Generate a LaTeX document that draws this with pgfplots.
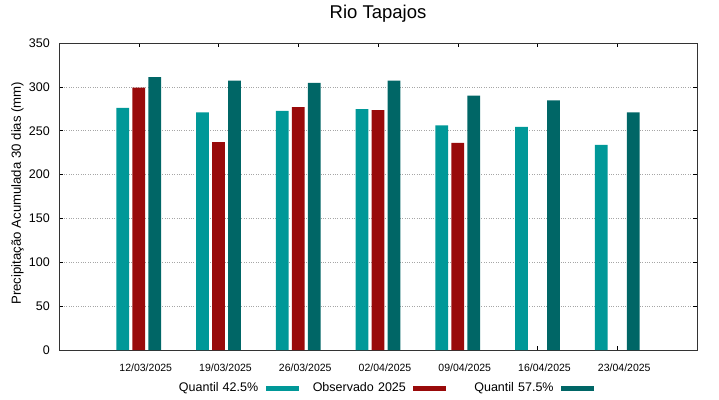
\documentclass[border=0pt]{standalone}
\usepackage{pgfplots}
\pgfplotsset{compat=1.18}
\usepackage{fontspec}
\setmainfont{Liberation Sans}
\usetikzlibrary{calc}
\definecolor{qlow}{RGB}{0,152,152}
\definecolor{obs}{RGB}{153,10,10}
\definecolor{qhigh}{RGB}{0,102,102}
\begin{document}
\begin{tikzpicture}
\begin{axis}[
  scale only axis,
  width=638pt, height=307pt,
  xmin=0, xmax=8, ymin=0, ymax=350,
  xtick={1,2,3,4,5,6,7},
  xticklabels={12/03/2025,19/03/2025,26/03/2025,02/04/2025,09/04/2025,16/04/2025,23/04/2025},
  ytick={0,50,100,150,200,250,300,350},
  /pgf/number format/assume math mode=true,
  xticklabel style={font=\fontsize{10.5}{12}\selectfont, anchor=base, yshift=-21pt, xshift=7pt},
  yticklabel style={font=\fontsize{12.5}{14}\selectfont, inner sep=0pt, xshift=-9pt},
  tick align=inside,
  major tick length=4pt,
  tick style={black, line width=0.5pt},
  axis line style={black!80, line width=0.7pt},
  ymajorgrids,
  grid style={gray!70, dotted, line width=0.6pt},
  legend columns=3,
  legend plot pos=right,
  legend style={draw=none, fill=none, font=\fontsize{12.5}{14}\selectfont,
    at={(rel axis cs:0.5002,0)}, anchor=center, yshift=-38pt,
    nodes={text width=94pt, align=right},
    /tikz/every odd column/.style={column sep=5.5pt},
    /tikz/every even column/.style={column sep=11.2pt}},
  legend image code/.code={\fill[#1, draw=none] (0pt,-2.5pt) rectangle (33pt,2.5pt);},
  clip=false,
]
\addplot[ybar, bar width=0.16, bar shift=-0.2, fill=qlow, draw=none]
  coordinates {(1,276) (2,271) (3,272.5) (4,274.5) (5,256) (6,254.5) (7,234)};
\addlegendentry{Quantil 42.5\%}
\addplot[ybar, bar width=0.16, bar shift=0, fill=obs, draw=none]
  coordinates {(1,299) (2,237) (3,277) (4,273.5) (5,236)};
\addlegendentry{Observado 2025}
\addplot[ybar, bar width=0.16, bar shift=0.2, fill=qhigh, draw=none]
  coordinates {(1,311) (2,307) (3,304.5) (4,307) (5,290) (6,284.5) (7,271)};
\addlegendentry{Quantil 57.5\%}
\coordinate (sw) at (rel axis cs:0,0);
\coordinate (ne) at (rel axis cs:1,1);
\coordinate (tt) at (rel axis cs:0.5,1);
\node[rotate=90, anchor=center, font=\fontsize{13.2}{16}\selectfont] at ($(rel axis cs:0,0.511)+(-41.5pt,0)$) {Precipitação Acumulada 30 dias (mm)};
\end{axis}
\node[anchor=base, inner sep=0pt] at ($(tt)+(0,24pt)$) {\fontsize{18.5}{22}\selectfont Rio Tapajos};
\pgfresetboundingbox
\path ($(sw)+(-59pt,-49pt)$) rectangle ($(ne)+(22pt,43pt)$);
\end{tikzpicture}
\end{document}
